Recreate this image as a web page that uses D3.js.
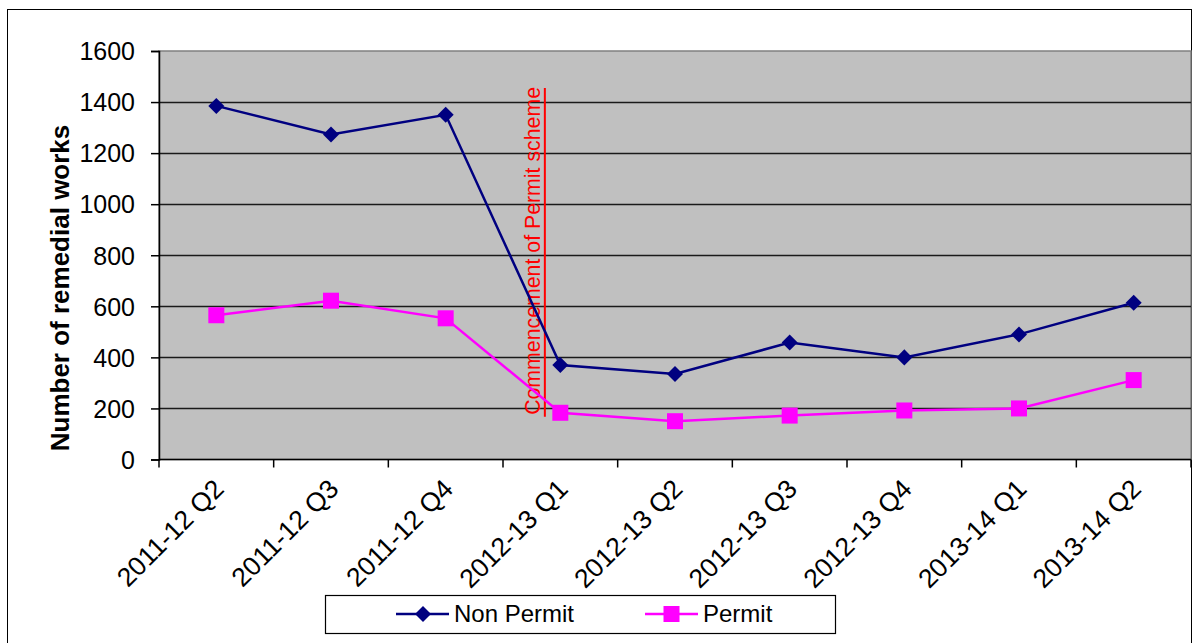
<!DOCTYPE html>
<html>
<head>
<meta charset="utf-8">
<script src="https://cdn.jsdelivr.net/npm/d3@7"></script>
<style>
  body { margin: 0; background: #fff; }
  text { font-family: Arial, "Liberation Sans", sans-serif; }
</style>
</head>
<body>
<div id="chart"></div>
<script>
// quarters on the x axis
var quarters = ["2011-12 Q2", "2011-12 Q3", "2011-12 Q4", "2012-13 Q1", "2012-13 Q2",
                "2012-13 Q3", "2012-13 Q4", "2013-14 Q1", "2013-14 Q2"];
// remedial works counts
var nonPermit = [1385, 1273, 1350, 370, 335, 458, 400, 490, 614];
var permit = [565, 622, 553, 183, 150, 172, 192, 200, 311];
var yTicks = [0, 200, 400, 600, 800, 1000, 1200, 1400, 1600];
// permit scheme start marker (category it sits in, and value span)
var markerCat = "2012-13 Q1";
var markerSpan = [167, 1455];
var markerLabel = "Commencement of Permit scheme";

const w = 1198, h = 643;
const pLeft = 159, pRight = 1191, pTop = 51, pBottom = 459.5;

const svg = d3.select("#chart").append("svg")
  .attr("width", w).attr("height", h);

// outer chart border
svg.append("rect")
  .attr("x", 7.5).attr("y", 9.5)
  .attr("width", pRight - 7).attr("height", 660)
  .attr("fill", "#fff").attr("stroke", "#000");

const x = d3.scaleBand().domain(quarters).range([pLeft, pRight]);
const y = d3.scaleLinear().domain([0, 1600]).range([pBottom, pTop]);

// plot area
svg.append("rect")
  .attr("x", pLeft).attr("y", pTop)
  .attr("width", pRight - pLeft).attr("height", pBottom - pTop)
  .attr("fill", "#c0c0c0").attr("stroke", "#808080").attr("stroke-width", 1.5);

// gridlines
svg.append("g")
  .selectAll("line")
  .data(yTicks.filter(d => d > 0 && d < 1600))
  .enter().append("line")
  .attr("x1", pLeft).attr("x2", pRight)
  .attr("y1", d => Math.round(y(d)) + 0.5).attr("y2", d => Math.round(y(d)) + 0.5)
  .attr("stroke", "#1a1a1a").attr("stroke-width", 1.3);

// y axis
const yAxis = d3.axisLeft(y).tickValues(yTicks).tickFormat(d3.format("d"))
  .tickSize(8).tickPadding(16);
const gy = svg.append("g")
  .attr("transform", "translate(" + pLeft + ",0)")
  .call(yAxis);
gy.selectAll("text").attr("font-size", 25).attr("fill", "#000").attr("dy", "0.35em");
gy.selectAll("line, path").attr("stroke", "#000").attr("stroke-width", 1.5);

// x axis, ticks on category boundaries
const gx = svg.append("g");
gx.append("line")
  .attr("x1", pLeft).attr("x2", pRight).attr("y1", pBottom).attr("y2", pBottom)
  .attr("stroke", "#000").attr("stroke-width", 1.5);
gx.selectAll(".tk")
  .data(quarters.concat(["end"]))
  .enter().append("line")
  .attr("x1", (d, i) => pLeft + i * x.bandwidth())
  .attr("x2", (d, i) => pLeft + i * x.bandwidth())
  .attr("y1", pBottom).attr("y2", pBottom + 8)
  .attr("stroke", "#000").attr("stroke-width", 1.5);
gx.selectAll(".lbl")
  .data(quarters)
  .enter().append("text")
  .attr("transform", d => "translate(" + (x(d) + x.bandwidth() / 2 - 4) + "," + (pBottom + 18) + ") rotate(-45)")
  .attr("text-anchor", "end")
  .attr("dy", "0.7em")
  .attr("font-size", 26.5)
  .text(d => d);

// y axis title
svg.append("text")
  .attr("transform", "translate(69,288) rotate(-90)")
  .attr("text-anchor", "middle")
  .attr("font-size", 26)
  .attr("font-weight", "bold")
  .text("Number of remedial works");

// permit scheme marker
const mx = x(markerCat) + x.bandwidth() * 0.365;
svg.append("line")
  .attr("x1", mx).attr("x2", mx)
  .attr("y1", y(markerSpan[1])).attr("y2", y(markerSpan[0]))
  .attr("stroke", "#ff0000").attr("stroke-width", 2);
svg.append("text")
  .attr("transform", "translate(" + (mx - 5) + "," + (y(markerSpan[0]) - 2) + ") rotate(-90)")
  .attr("text-anchor", "start")
  .attr("font-size", 21.3)
  .attr("fill", "#ff0000")
  .text(markerLabel);

const cx = d => x(d) + x.bandwidth() / 2;
const line = d3.line().x((d, i) => cx(quarters[i])).y(d => y(d));

// series lines
svg.append("path").datum(nonPermit)
  .attr("d", line).attr("fill", "none")
  .attr("stroke", "#000080").attr("stroke-width", 2.5);
svg.append("path").datum(permit)
  .attr("d", line).attr("fill", "none")
  .attr("stroke", "#ff00ff").attr("stroke-width", 2.5);

// markers
const diamond = d3.symbol().type(d3.symbolSquare).size(128);
svg.selectAll(".np")
  .data(nonPermit).enter().append("path")
  .attr("d", diamond)
  .attr("transform", (d, i) => "translate(" + cx(quarters[i]) + "," + y(d) + ") rotate(45)")
  .attr("fill", "#000080");
svg.selectAll(".pm")
  .data(permit).enter().append("rect")
  .attr("x", (d, i) => cx(quarters[i]) - 8)
  .attr("y", d => y(d) - 8)
  .attr("width", 16).attr("height", 16)
  .attr("fill", "#ff00ff");

// legend
const lg = svg.append("g");
lg.append("rect")
  .attr("x", 325.5).attr("y", 595.5).attr("width", 510).attr("height", 38)
  .attr("fill", "#fff").attr("stroke", "#000").attr("stroke-width", 1.2);
const items = [
  { name: "Non Permit", color: "#000080", x0: 396, shape: "diamond" },
  { name: "Permit", color: "#ff00ff", x0: 645, shape: "square" }
];
items.forEach(function(it) {
  lg.append("line")
    .attr("x1", it.x0).attr("x2", it.x0 + 53)
    .attr("y1", 614).attr("y2", 614)
    .attr("stroke", it.color).attr("stroke-width", 2.5);
  if (it.shape === "diamond") {
    lg.append("path").attr("d", diamond)
      .attr("transform", "translate(" + (it.x0 + 27) + ",614) rotate(45)")
      .attr("fill", it.color);
  } else {
    lg.append("rect")
      .attr("x", it.x0 + 18.5).attr("y", 606)
      .attr("width", 16).attr("height", 16)
      .attr("fill", it.color);
  }
  lg.append("text")
    .attr("x", it.x0 + 58).attr("y", 614)
    .attr("dy", "0.35em")
    .attr("font-size", 24)
    .text(it.name);
});
</script>
</body>
</html>
